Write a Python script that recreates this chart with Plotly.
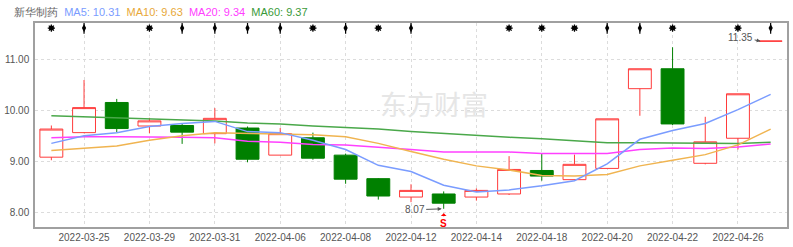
import plotly.graph_objects as go

dates = ["2022-03-24", "2022-03-25", "2022-03-28", "2022-03-29", "2022-03-30", "2022-03-31",
         "2022-04-01", "2022-04-06", "2022-04-07", "2022-04-08", "2022-04-11", "2022-04-12",
         "2022-04-13", "2022-04-14", "2022-04-15", "2022-04-18", "2022-04-19", "2022-04-20",
         "2022-04-21", "2022-04-22", "2022-04-25", "2022-04-26", "2022-04-27"]
opens = [9.08, 9.56, 10.15, 9.69, 9.70, 9.54, 9.65, 9.12, 9.46, 9.12, 8.66, 8.30,
         8.36, 8.30, 8.36, 8.82, 8.64, 8.86, 10.42, 10.81, 8.96, 9.45, 11.35]
highs = [9.70, 10.59, 10.22, 9.85, 9.74, 10.04, 9.68, 9.65, 9.56, 9.15, 8.67, 8.55,
         8.41, 8.47, 9.10, 9.16, 9.13, 9.83, 10.81, 11.23, 9.87, 10.32, 11.35]
lows = [9.02, 9.55, 9.57, 9.55, 9.34, 9.35, 8.98, 9.12, 9.03, 8.56, 8.25, 8.20,
        8.07, 8.23, 8.34, 8.62, 8.63, 8.86, 9.89, 9.71, 8.94, 9.23, 11.35]
closes = [9.63, 10.05, 9.64, 9.79, 9.57, 9.84, 9.04, 9.54, 9.06, 8.65, 8.32, 8.43,
          8.18, 8.43, 8.84, 8.71, 8.94, 9.83, 10.81, 9.73, 9.38, 10.32, 11.35]
ma5 = [9.35, 9.50, 9.56, 9.68, 9.74, 9.78, 9.58, 9.56, 9.41, 9.23, 8.92, 8.80,
       8.53, 8.40, 8.44, 8.52, 8.62, 8.95, 9.43, 9.60, 9.74, 10.01, 10.31]
ma10 = [9.21, 9.25, 9.30, 9.41, 9.50, 9.56, 9.55, 9.54, 9.52, 9.48, 9.35, 9.19,
        9.04, 8.91, 8.83, 8.72, 8.71, 8.74, 8.91, 9.02, 9.13, 9.32, 9.63]
ma20 = [9.46, 9.48, 9.48, 9.48, 9.47, 9.46, 9.39, 9.37, 9.33, 9.32, 9.28, 9.23,
        9.18, 9.18, 9.18, 9.15, 9.15, 9.15, 9.23, 9.26, 9.25, 9.28, 9.34]
ma60 = [9.89, 9.87, 9.85, 9.83, 9.81, 9.79, 9.75, 9.73, 9.69, 9.66, 9.63, 9.58,
        9.54, 9.50, 9.47, 9.44, 9.40, 9.36, 9.36, 9.36, 9.35, 9.35, 9.37]
signals = ["star", "arrow", None, "star", "arrow", "arrow", "arrow", "arrow", "star", "arrow",
           "star", "arrow", None, None, "star", "star", "star", "arrow", "arrow", "star",
           None, "star", "arrow"]
tick_dates = dates[1::2]
yticks = [8, 9, 10, 11]
stock_name = "新华制药"
low_label_idx = 12
sell_idx = 12

FONT = "Liberation Sans, Arial, sans-serif"
RED = "#ff3b3b"
GREEN = "#008000"
C5, C10, C20, C60 = "#7a9cff", "#f0b450", "#ff40ff", "#4aa84a"

fig = go.Figure()
fig.add_trace(go.Candlestick(
    x=dates, open=opens, high=highs, low=lows, close=closes,
    increasing=dict(line=dict(color=RED, width=1), fillcolor="white"),
    decreasing=dict(line=dict(color=GREEN, width=1), fillcolor=GREEN),
    whiskerwidth=0, hoverinfo="skip", showlegend=False))
for vals, col in [(ma60, C60), (ma20, C20), (ma10, C10), (ma5, C5)]:
    fig.add_trace(go.Scatter(x=dates, y=vals, mode="lines",
                             line=dict(color=col, width=1.5), showlegend=False,
                             hoverinfo="skip"))

star_x = [d for d, s in zip(dates, signals) if s == "star"]
arr_x = [d for d, s in zip(dates, signals) if s == "arrow"]
ROW = 0.975
fig.add_trace(go.Scatter(x=star_x, y=[ROW] * len(star_x), yaxis="y2", mode="markers",
                         marker=dict(symbol="circle", size=5, color="black"),
                         showlegend=False, hoverinfo="skip"))
fig.add_trace(go.Scatter(x=star_x, y=[ROW] * len(star_x), yaxis="y2", mode="markers",
                         marker=dict(symbol="asterisk-open", size=6, color="black",
                                     line=dict(color="black", width=1.2)),
                         showlegend=False, hoverinfo="skip"))
fig.add_trace(go.Scatter(x=arr_x, y=[ROW] * len(arr_x), yaxis="y2", mode="markers",
                         marker=dict(symbol="line-ns-open", size=8, color="black",
                                     line=dict(color="black", width=1.2)),
                         showlegend=False, hoverinfo="skip"))
fig.add_trace(go.Scatter(x=arr_x, y=[ROW] * len(arr_x), yaxis="y2", mode="markers",
                         marker=dict(symbol="diamond-tall", size=6, color="black"),
                         showlegend=False, hoverinfo="skip"))

title_html = (f'<span style="color:#666">{stock_name}</span>  '
              f'<span style="color:{C5}">MA5: {ma5[-1]:.2f}</span>  '
              f'<span style="color:#e8a838">MA10: {ma10[-1]:.2f}</span>  '
              f'<span style="color:{C20}">MA20: {ma20[-1]:.2f}</span>  '
              f'<span style="color:#3a9a3a">MA60: {ma60[-1]:.2f}</span>')

annotations = [
    dict(text=title_html, xref="paper", yref="paper", x=-0.031, y=1.055,
         xanchor="left", yanchor="middle", showarrow=False,
         font=dict(family=FONT, size=11)),
    dict(text="东方财富", xref="paper", yref="paper", x=0.53, y=0.605,
         showarrow=False, font=dict(family="Noto Sans CJK SC", size=27, color="#e6e6e6"),
         ),
    dict(text=f"{lows[low_label_idx]:.2f}", x=dates[low_label_idx], y=lows[low_label_idx],
         ax=-29, ay=1, showarrow=True, arrowhead=2, arrowsize=0.8, arrowwidth=1,
         arrowcolor="#555", font=dict(family=FONT, size=10, color="#555"), standoff=2),
    dict(text=f"{highs[-1]:.2f}", x=dates[-1], y=highs[-1], xshift=-10,
         ax=-20, ay=-4, showarrow=True, arrowhead=2, arrowsize=0.8, arrowwidth=1,
         arrowcolor="#555", font=dict(family=FONT, size=10, color="#555"), standoff=0),
    dict(text="<b>S</b>", x=dates[sell_idx], xref="x", yref="paper", y=0.068,
         ax=0, ay=10, showarrow=True, arrowhead=1, arrowsize=0.8, arrowwidth=1.2,
         arrowcolor="red", font=dict(family=FONT, size=10, color="red"), standoff=0),
]

fig.update_layout(
    width=793, height=247,
    margin=dict(l=28, r=4, t=23, b=19),
    paper_bgcolor="white", plot_bgcolor="white",
    boxgap=0.3, boxgroupgap=0,
    xaxis=dict(type="category", range=[-0.5, 22.5], rangeslider=dict(visible=False),
               tickmode="array", tickvals=tick_dates, ticktext=tick_dates,
               showgrid=True, gridcolor="#dcdcdc", griddash="3px,3px", gridwidth=1,
               showline=True, linecolor="#a0a0a0", linewidth=1.5, mirror=True,
               ticks="", tickfont=dict(family=FONT, size=10, color="#555"),
               zeroline=False),
    yaxis=dict(range=[7.714, 11.705], tickmode="array", tickvals=yticks,
               tickformat=".2f", showgrid=True, gridcolor="#dcdcdc", griddash="3px,3px",
               gridwidth=1, showline=True, linecolor="#a0a0a0", linewidth=1.5, mirror=True,
               ticks="", tickfont=dict(family=FONT, size=10, color="#555"),
               ticklabelstandoff=2, zeroline=False),
    yaxis2=dict(overlaying="y", range=[0, 1], visible=False),
    annotations=annotations,
    showlegend=False,
)

fig.write_html("out.html")
